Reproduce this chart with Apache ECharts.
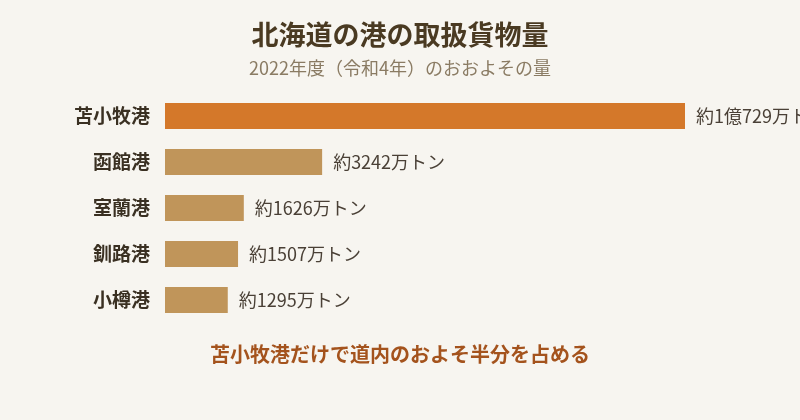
<!DOCTYPE html>
<html>
<head>
<meta charset="utf-8">
<script src="https://cdn.jsdelivr.net/npm/echarts@6/dist/echarts.min.js"></script>
<style>
  html, body { margin: 0; padding: 0; background: #f7f5f0; }
  #chart { width: 800px; height: 420px; }
</style>
</head>
<body>
<div id="chart"></div>
<script>
// 港名と取扱貨物量（万トン）
var ports = ["苫小牧港", "函館港", "室蘭港", "釧路港", "小樽港"];
var amounts = [10729, 3242, 1626, 1507, 1295];
var highlight = "苫小牧港";

var FONT = '"Noto Sans CJK JP", "Noto Sans", sans-serif';

function fmtAmount(v) {
  // 1億以上は「億」をつける
  if (v >= 10000) {
    return "約" + Math.floor(v / 10000) + "億" + (v % 10000) + "万トン";
  }
  return "約" + v + "万トン";
}

var chart = echarts.init(document.getElementById("chart"));
var option = {
  backgroundColor: "#f7f5f0",
  animation: false,
  title: [
    {
      text: "北海道の港の取扱貨物量",
      subtext: "2022年度（令和4年）のおおよその量",
      left: "center",
      top: 16,
      itemGap: 11,
      textStyle: { fontFamily: FONT, fontSize: 27, fontWeight: "bold", color: "#4a3a22" },
      subtextStyle: { fontFamily: FONT, fontSize: 18, color: "#8a7b63" }
    },
    {
      text: "苫小牧港だけで道内のおよそ半分を占める",
      left: "center",
      top: 339,
      textStyle: { fontFamily: FONT, fontSize: 20, fontWeight: "bold", color: "#a4531d" }
    }
  ],
  grid: {
    left: 165,
    right: 115,
    top: 93,
    height: 230
  },
  xAxis: {
    type: "value",
    show: false,
    min: 0,
    max: "dataMax",
    splitLine: { show: false }
  },
  yAxis: {
    type: "category",
    inverse: true,
    data: ports,
    axisLine: { show: false },
    axisTick: { show: false },
    axisLabel: {
      margin: 15,
      fontFamily: FONT,
      fontSize: 19,
      fontWeight: "bold",
      color: "#3a3022"
    }
  },
  series: [
    {
      type: "bar",
      barWidth: 26,
      clip: false,
      data: amounts.map(function (v, i) {
        return {
          value: v,
          itemStyle: { color: ports[i] === highlight ? "#d4782a" : "#c0955a" }
        };
      }),
      label: {
        show: true,
        position: "right",
        distance: 11,
        fontFamily: FONT,
        fontSize: 18,
        color: "#4a4036",
        formatter: function (p) { return fmtAmount(p.value); }
      }
    }
  ]
};
chart.setOption(option);
</script>
</body>
</html>
